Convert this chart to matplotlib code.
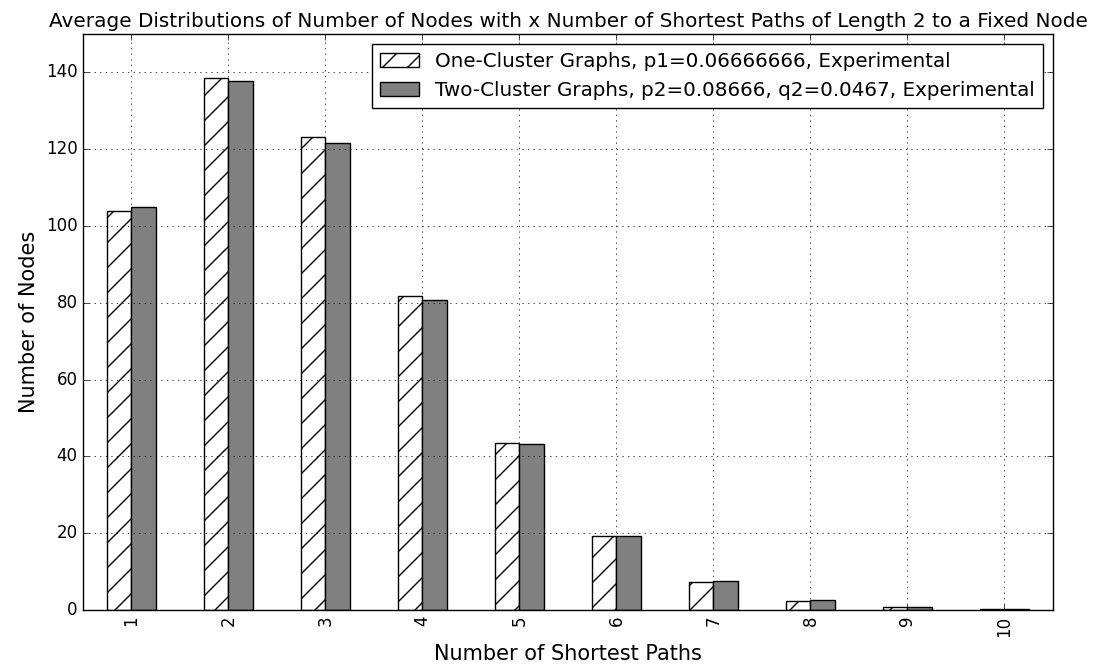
import matplotlib
matplotlib.use("Agg")
import matplotlib.pyplot as plt
from matplotlib.backend_bases import GraphicsContextBase
from matplotlib.path import Path
import numpy as np

plt.style.use('classic')

# hatch spacing as in the reference (about 24 px between lines)
def _ref_hatch_path(self, density=8.0):
    hatch = self.get_hatch()
    if hatch is None:
        return None
    return Path.hatch(hatch, 8.0)
GraphicsContextBase.get_hatch_path = _ref_hatch_path

categories = ["1", "2", "3", "4", "5", "6", "7", "8", "9", "10"]
one_cluster = [103.9, 138.5, 123.2, 81.8, 43.5, 19.3, 7.3, 2.3, 0.7, 0.2]
two_cluster = [104.9, 137.8, 121.6, 80.7, 43.2, 19.3, 7.5, 2.6, 0.7, 0.2]
label_one = "One-Cluster Graphs, p1=0.06666666, Experimental"
label_two = "Two-Cluster Graphs, p2=0.08666, q2=0.0467, Experimental"

fig = plt.figure(figsize=(10.93, 6.71), dpi=100, facecolor='white')
ax = fig.add_axes([0.0759, 0.0909, 0.8875, 0.8584])

x = np.arange(len(categories))
w = 0.25
ax.bar(x - w, one_cluster, w, align='edge', color='white', edgecolor='black',
       hatch='/', label=label_one)
ax.bar(x, two_cluster, w, align='edge', color='0.5', edgecolor='black',
       label=label_two)

ax.set_xlim(-0.5, len(categories) - 0.5)
ax.set_ylim(0, 150)
ax.set_xticks(x)
ax.set_xticklabels(categories, rotation=90)
ax.grid(True, color='black', linestyle=':')
ax.set_axisbelow(False)
ax.set_title("Average Distributions of Number of Nodes with x Number of Shortest Paths of Length 2 to a Fixed Node",
             fontsize=14.4)
ax.set_xlabel("Number of Shortest Paths", fontsize=15)
ax.set_ylabel("Number of Nodes", fontsize=15)
ax.legend(loc='upper right', fontsize=14.3)

fig.savefig("out.png", dpi=100, facecolor='white')
